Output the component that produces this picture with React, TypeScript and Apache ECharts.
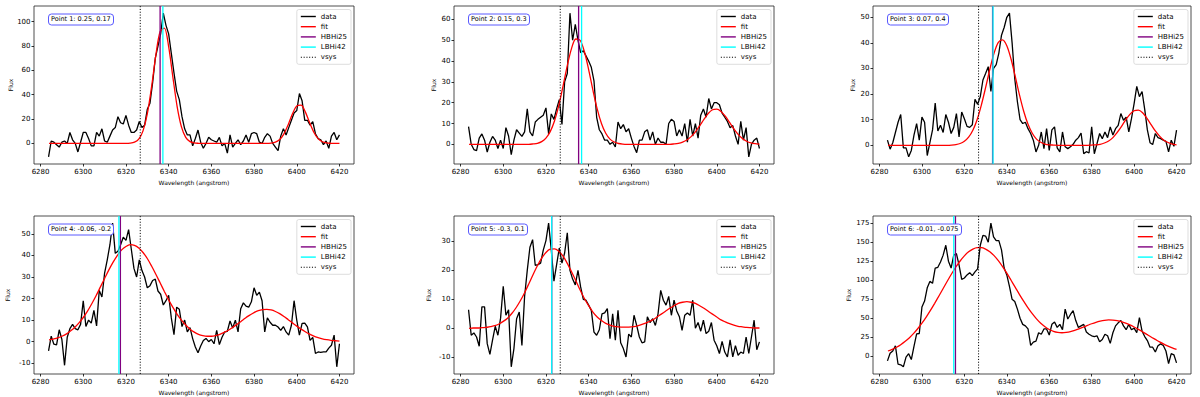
import { useEffect, useRef } from "react";
import * as echarts from "echarts";

const FONT = "DejaVu Sans";

// Wavelength sampling of the spectra (angstrom)
const WAVE_START = 6283.75;
const WAVE_STEP = 1.25;
const WAVE_COUNT = 110;
const FIT_START = 6284;
const FIT_STEP = 2;
const FIT_COUNT = 69;

const X_TICKS = [6280, 6300, 6320, 6340, 6360, 6380, 6400, 6420];

const TITLES = [
  "Point 1: 0.25, 0.17",
  "Point 2: 0.15, 0.3",
  "Point 3: 0.07, 0.4",
  "Point 4: -0.06, -0.2",
  "Point 5: -0.3, 0.1",
  "Point 6: -0.01, -0.075",
];

const LEGEND_NAMES = ["data", "fit", "HBHi25", "LBHi42", "vsys"];

const VSYS = 6326.7;
const HBHI25 = [6336.0, 6335.3, 6333.3, 6317.4, 6322.7, 6315.8];
const LBHI42 = [6337.3, 6336.7, 6333.5, 6316.7, 6322.7, 6315.0];

const Y_TICKS = [
  [0, 20, 40, 60, 80, 100],
  [0, 10, 20, 30, 40, 50, 60],
  [0, 10, 20, 30, 40, 50],
  [-10, 0, 10, 20, 30, 40, 50],
  [-10, 0, 10, 20, 30],
  [0, 25, 50, 75, 100, 125, 150, 175],
];

const P1_DATA = [
  -11, 2, 1, -1, -3, 1, 2, 0, 9, 3,
  0, -7, 1, 9, 9, 4, -2, -2, 9, 6,
  12, 2, 1, 6, 11, 13, 22, 17, 16, 23,
  15, 9, 9, 11, 18, 13, 15, 28, 33, 50,
  70, 80, 90, 107, 97, 90, 74, 58, 43, 36,
  22, 12, 7, 7, -2, 4, 11, 1, -4, 0,
  5, 3, 2, 1, 5, -2, 0, -8, 7, -3,
  0, 3, -1, 2, 7, 1, 8, 9, 8, 1,
  0, 5, 8, 6, 0, -3, -6, 6, 12, 7,
  13, 19, 25, 27, 41, 35, 19, 19, 15, 18,
  8, 4, 3, -1, 2, -4, 6, 9, 3, 7,
];
const P2_DATA = [
  8.5, 0, -2.5, -3, 3, 5, 2, -3.7, 1, 3.8,
  2, -2, 2, -2, 8, 4, -5, 2, 7, 5.4,
  3.8, 6, 17, 6, 4, 10.7, 12, 13, 14, 17.5,
  5, 14.6, 12, 17, 21.5, 9.5, 30, 34, 63, 50,
  57.6, 50, 44, 45, 42.5, 40, 37, 30.5, 13, 7,
  5, 2, 2, 0, 1, -1.3, 10.7, 7.5, 9.5, 6,
  7.5, 3, -1, -4, 2, 2, 6, 7, 2, 6,
  0, 3, 1, 1, 0, 10, 12, 11, 4, 7,
  4, 10, 1, 12, 4, 10, 3, 14, 17, 13,
  22, 17, 20, 20, 19, 15, 13, 11, 8, 9,
  4, 0, 11, 2, 8, -6, 0, 2, 3, -2,
];
const P3_DATA = [
  2, -1.5, 1, 5, 9, 12, -1, -1, -4.5, -2,
  4, 8.5, 2, 11, 9, -4, 1, 6, 16.5, 5.6,
  7.8, 5, 12, 9, 4.6, 7, 12.4, 3.3, 13, 10.4,
  7.4, 7, 8, 18, 16, 19, 25.5, 28, 30.7, 21,
  30, 31.5, 36, 43, 46, 50, 51.6, 40, 26, 17,
  10, 8.5, 9, 6.5, 4.6, 2, -2.6, 0, 5.2, -1.3,
  6.5, -2, 6, 7.2, -1, -2.6, 5.2, -0.6, -1.3, -0.6,
  0.4, 2, 3, 4.8, -3.3, -2.5, -3, 7.2, -3.3, 0.6,
  4.6, 2.6, 5.2, 3, 7.2, 4, 6.5, 7.8, 12.4, 9.8,
  11, 5.2, 10.4, 16.3, 23, 19, 21, 14, 6, 1,
  0.3, 4.6, 3, 2.6, 2, 1.5, -2.6, 2, -0.4, 5.9,
];
const P4_DATA = [
  -4.3, 2.5, -1.2, -1.5, 5.5, 1, -11, 2, 6, 8,
  6, 5.5, 8, 19, 7, 10, 8.6, 14.5, 7.3, 23.8,
  20.7, 31.8, 38, 45, 55, 41, 42, 45, 48.5, 47,
  52, 43, 34, 30, 38, 33, 30, 25, 26, 28.4,
  29, 23.5, 22, 17, 19, 21.5, 11, 3.2, 16, 15,
  7, 10, 4.5, 6.5, 1.4, -2.5, -5.2, -2, 0.5, 1.5,
  0, 1, -1, 5.2, -1.4, 2, 4.5, 4.8, 9.6, 6.3,
  10, 4.5, 15.3, 18, 16.5, 16, 18.5, 25, 21.5, 23,
  19, 4.5, 11, 9, 7.6, 7.6, 6.8, 5.2, 7, 4.5,
  3, 7.6, 19, 10, 3, 8.5, 8.6, 6.8, 0.6, 2,
  -5.5, -4.8, -5, -4.8, -4.8, -3, -1.7, 3, -11.7, -1,
];
const P5_DATA = [
  6.4, -2.4, -1.6, -3, -6.2, 7.4, 7.4, -5.3, -9, -4,
  0.7, -2.4, 3.5, 14.5, 4.5, 6.4, -13.3, -7, 3.3, 5.6,
  -5.9, 11, 20, 28, 30.6, 21.7, 22, 22.5, 27, 30.3,
  36.3, 27, 16.3, 22, 27.7, 22.5, 26, 33, 20, 17,
  15, 20, 14.3, 10, 9.7, 8, 6.2, -1.3, -2.4, -0.5,
  5, 5.3, 6.8, -3.6, 5, -4.1, 6.2, -5, -7, -9.9,
  -2, -3, 4.5, 1, -3, -5, -4.7, 4, 2, 3.3,
  1, 5, 13.1, 9.7, 8, 11, 4.5, 9.7, 6, 4,
  -0.7, 4.5, 5.3, 4.5, 9.7, 0, 2, -1, 2.8, -1.8,
  -1, 2, -4.1, -6, -8.7, -4.5, -8.2, -9.9, -4, -9.9,
  -6, -9.3, -8.2, -8.7, -3, -8.7, -3, 2.8, -7.4, -4.7,
];
const P6_DATA = [
  -6, 4, 7, 13.8, -10.4, -11.2, -13.8, -1, 3.5, -4.3,
  13, 29.4, 30, 64.8, 72.6, 90, 98.5, 96, 116, 117,
  124, 133, 146, 125, 116, 133, 135, 120, 101, 103,
  107, 110, 106, 111, 115, 146, 159, 158, 150, 175,
  157, 152, 152, 140, 116, 107, 92, 75, 72, 62,
  50, 42, 40, 36, 14.3, 18.6, 20, 31, 29, 36,
  36, 28, 42, 45, 38, 42, 35, 62, 49, 55,
  60, 47, 38, 40, 42, 32, 29, 27, 26, 27,
  19, 22, 29, 27, 17, 31, 40, 44, 47, 40,
  35, 42, 35, 37, 31, 51, 33, 26, 20.7, 12,
  12, 5.6, 14, 16.4, 14.3, 7, -9.5, 3.5, 2, -8.6,
];

const P1_FIT = [
  0, 0, 0, 0, 0, 0, 0, 0, 0, 0,
  0, 0, 0, 0, 0, 0, 0, 0, 0,
  0.2, 1.0, 3.5, 10.3, 24.2, 46.4, 72.5, 91.9, 94.8, 79.5, 54.3, 30.1, 13.6, 5.0, 1.5, 0.4, 0.1,
  0, 0, 0, 0, 0, 0, 0, 0, 0, 0, 0, 0, 0, 0, 0, 0,
  0.3, 1.1, 3.2, 7.9, 15.4, 24.3, 30.8, 31.4, 25.9, 17.2, 9.2, 3.9, 1.4, 0.4, 0.1, 0, 0,
];
const P2_FIT = [
  0, 0, 0, 0, 0, 0, 0, 0, 0, 0, 0, 0, 0, 0, 0,
  0.2, 0.5, 1.3, 3.0, 6.1, 11.2, 18.6, 28.0, 37.8, 46.1, 50.6, 50.0, 44.6, 35.9, 26.0, 17.0, 10.0, 5.3, 2.5, 1.1, 0.4, 0.1,
  0, 0, 0, 0, 0, 0, 0, 0, 0, 0, 0,
  0.2, 0.5, 1.1, 2.1, 3.7, 6.0, 8.9, 12.0, 14.8, 16.6, 16.9, 15.8, 13.5, 10.5, 7.4, 4.8, 2.8, 1.5, 0.7, 0.3, 0.1,
];
const P3_FIT = [
  0, 0, 0, 0, 0, 0, 0, 0, 0, 0, 0, 0, 0, 0, 0,
  0.1, 0.3, 0.7, 1.6, 3.2, 5.9, 10.0, 15.7, 22.5, 29.7, 36.0, 40.2, 41.2, 38.9, 33.7, 26.8, 19.6, 13.2, 8.2, 4.7, 2.4, 1.2, 0.5, 0.2, 0.1,
  0, 0, 0, 0, 0, 0, 0, 0,
  0.1, 0.2, 0.4, 0.9, 1.7, 3.0, 5.0, 7.3, 9.9, 12.1, 13.5, 13.7, 12.7, 10.6, 8.1, 5.6, 3.6, 2.0, 1.1, 0.5, 0.2,
];
const P4_FIT = [
  0.8, 1.2, 1.7, 2.5, 3.5, 4.9, 6.6, 8.7, 11.2, 14.2,
  17.6, 21.3, 25.3, 29.3, 33.3, 36.9, 40.1, 42.6, 44.2, 45.0,
  44.7, 43.5, 41.4, 38.6, 35.1, 31.3, 27.3, 23.3, 19.4, 15.9,
  12.7, 10.0, 7.7, 5.8, 4.4, 3.4, 2.8, 2.5, 2.5, 2.8,
  3.4, 4.3, 5.3, 6.6, 8.0, 9.5, 11.0, 12.3, 13.5, 14.4,
  14.9, 15.0, 14.7, 14.0, 13.0, 11.7, 10.2, 8.7, 7.2, 5.8,
  4.6, 3.5, 2.6, 1.9, 1.3, 0.9, 0.6, 0.4, 0.2,
];
const P5_FIT = [
  0.0, 0.1, 0.1, 0.2, 0.3, 0.6, 0.9, 1.5, 2.4, 3.5,
  5.1, 7.1, 9.5, 12.3, 15.4, 18.6, 21.6, 24.2, 26.2, 27.3,
  27.4, 26.6, 24.9, 22.4, 19.5, 16.4, 13.2, 10.3, 7.8, 5.6,
  3.9, 2.7, 1.7, 1.1, 0.7, 0.5, 0.4, 0.4, 0.5, 0.7,
  1.1, 1.6, 2.2, 2.9, 3.9, 4.9, 5.9, 6.9, 7.8, 8.6,
  9.0, 9.2, 9.0, 8.6, 7.8, 6.9, 5.9, 4.9, 3.9, 2.9,
  2.2, 1.6, 1.1, 0.7, 0.5, 0.3, 0.2, 0.1, 0.1,
];
const P6_FIT = [
  7.0, 9.2, 11.9, 15.3, 19.4, 24.2, 29.8, 36.2, 43.5, 51.5,
  60.3, 69.6, 79.3, 89.2, 99.0, 108.5, 117.4, 125.3, 132.0, 137.3,
  140.9, 142.8, 142.8, 141.0, 137.5, 132.3, 125.7, 117.9, 109.3, 100.0,
  90.6, 81.2, 72.2, 63.7, 56.0, 49.2, 43.4, 38.8, 35.3, 32.8,
  31.4, 31.0, 31.4, 32.4, 34.1, 36.1, 38.3, 40.6, 42.8, 44.7,
  46.2, 47.3, 47.8, 47.6, 46.9, 45.6, 43.7, 41.3, 38.5, 35.5,
  32.2, 28.8, 25.4, 22.2, 19.0, 16.1, 13.5, 11.1, 9.0,
];

const DATA = [P1_DATA, P2_DATA, P3_DATA, P4_DATA, P5_DATA, P6_DATA];
const FITS = [P1_FIT, P2_FIT, P3_FIT, P4_FIT, P5_FIT, P6_FIT];

// Layout (pixels)
const PANEL_LEFT = [34, 454, 873, 34, 454, 873];
const PANEL_TOP = [6, 6, 6, 216, 216, 216];
const PANEL_WIDTH = [320, 320, 318, 320, 320, 318];
const PANEL_HEIGHT = 158;
const FLUX_NAME_GAP = [21, 18, 18, 24, 23, 21.5];

const COLORS = {
  data: "#000000",
  fit: "#ff0000",
  HBHi25: "#800080",
  LBHi42: "#00ffff",
  vsys: "#000000",
};

const SOLID_ICON = "path://M0,0H15V1.4H0Z";
const DOTTED_ICON =
  "path://M0,0H1.1V1H0ZM2.8,0H3.9V1H2.8ZM5.6,0H6.7V1H5.6ZM8.3,0H9.4V1H8.3ZM11.1,0H12.2V1H11.1ZM13.9,0H15V1H13.9Z";

function buildOption() {
  const waves = Array.from({ length: WAVE_COUNT }, (_, i) => WAVE_START + WAVE_STEP * i);
  const fitWaves = Array.from({ length: FIT_COUNT }, (_, i) => FIT_START + FIT_STEP * i);
  const xLo = waves[0];
  const xHi = waves[waves.length - 1];
  const xPad = (xHi - xLo) * 0.05;

  const grid: any[] = [];
  const xAxis: any[] = [];
  const yAxis: any[] = [];
  const series: any[] = [];
  const title: any[] = [];
  const legend: any[] = [];

  const tickLine = { color: "#000", width: 0.8 };
  const labelStyle = { fontSize: 7, fontFamily: FONT, color: "#000" };
  const nameStyle = { fontSize: 6, fontFamily: FONT, color: "#000" };
  const plain = (v: number) => String(v);

  DATA.forEach((data, k) => {
    const fit = FITS[k];
    const all = data.concat(fit);
    const lo = Math.min(...all);
    const hi = Math.max(...all);
    const pad = (hi - lo) * 0.05;
    const yMin = lo - pad;
    const yMax = hi + pad;
    const left = PANEL_LEFT[k];
    const top = PANEL_TOP[k];
    const width = PANEL_WIDTH[k];

    grid.push({
      left,
      top,
      width,
      height: PANEL_HEIGHT,
      show: true,
      borderColor: "#222",
      borderWidth: 0.8,
      backgroundColor: "transparent",
      containLabel: false,
    });

    xAxis.push({
      type: "value",
      gridIndex: k,
      min: xLo - xPad,
      max: xHi + xPad,
      name: "Wavelength (angstrom)",
      nameLocation: "middle",
      nameGap: 15.5,
      nameTextStyle: nameStyle,
      axisLine: { show: false, onZero: false },
      axisTick: { show: true, length: 2.5, customValues: X_TICKS, lineStyle: tickLine },
      axisLabel: { show: true, customValues: X_TICKS, margin: 4.5, formatter: plain, ...labelStyle },
      splitLine: { show: false },
    });

    yAxis.push({
      type: "value",
      gridIndex: k,
      min: yMin,
      max: yMax,
      name: "Flux",
      nameLocation: "middle",
      nameGap: FLUX_NAME_GAP[k],
      nameTextStyle: nameStyle,
      axisLine: { show: false, onZero: false },
      axisTick: { show: true, length: 2.5, customValues: Y_TICKS[k], lineStyle: tickLine },
      axisLabel: { show: true, customValues: Y_TICKS[k], margin: 3.5, formatter: plain, ...labelStyle },
      splitLine: { show: false },
    });

    const base = {
      type: "line",
      xAxisIndex: k,
      yAxisIndex: k,
      symbol: "none",
      showSymbol: false,
      silent: true,
      animation: false,
      emphasis: { disabled: true },
    };

    series.push({
      ...base,
      name: "data",
      color: COLORS.data,
      lineStyle: { color: COLORS.data, width: 1.3 },
      data: waves.map((w, i) => [w, data[i]]),
    });
    series.push({
      ...base,
      name: "fit",
      color: COLORS.fit,
      smooth: 0.3,
      lineStyle: { color: COLORS.fit, width: 1.3 },
      data: fitWaves.map((w, i) => [w, fit[i]]),
    });
    series.push({
      ...base,
      name: "HBHi25",
      color: COLORS.HBHi25,
      lineStyle: { color: COLORS.HBHi25, width: 1.3 },
      data: [
        [HBHI25[k], yMin],
        [HBHI25[k], yMax],
      ],
    });
    series.push({
      ...base,
      name: "LBHi42",
      color: COLORS.LBHi42,
      lineStyle: { color: COLORS.LBHi42, width: 1.3 },
      data: [
        [LBHI42[k], yMin],
        [LBHI42[k], yMax],
      ],
    });
    series.push({
      ...base,
      name: "vsys",
      color: COLORS.vsys,
      lineStyle: { color: COLORS.vsys, width: 1, type: [1.1, 1.7] },
      data: [
        [VSYS, yMin],
        [VSYS, yMax],
      ],
    });

    title.push({
      text: TITLES[k],
      left: left + 14,
      top: top + 7.5,
      padding: [2, 3, 2, 3],
      backgroundColor: "#ffffff",
      borderColor: "#5a5aff",
      borderWidth: 1,
      borderRadius: 3,
      textStyle: {
        fontSize: 6.5,
        fontWeight: "normal",
        fontFamily: FONT,
        color: "#000",
        lineHeight: 7.8,
      },
    });

    legend.push({
      orient: "vertical",
      right: 1200 - (left + width) + 3,
      top: top + 3.5,
      itemWidth: 15,
      itemHeight: 7,
      itemGap: 3.2,
      padding: [3.5, 4, 3.5, 4],
      backgroundColor: "rgba(255,255,255,0.85)",
      borderColor: "#d4d4d4",
      borderWidth: 0.8,
      borderRadius: 2,
      selectedMode: false,
      textStyle: { fontSize: 7, fontFamily: FONT, color: "#000", lineHeight: 7 },
      data: LEGEND_NAMES.map((n) => ({
        name: n,
        icon: n === "vsys" ? DOTTED_ICON : SOLID_ICON,
        itemStyle: { color: (COLORS as any)[n], borderWidth: 0 },
      })),
    });
  });

  return {
    animation: false,
    backgroundColor: "#ffffff",
    textStyle: { fontFamily: FONT },
    title,
    legend,
    grid,
    xAxis,
    yAxis,
    series,
  };
}

export default function App() {
  const ref = useRef<HTMLDivElement>(null);
  useEffect(() => {
    document.body.style.margin = "0";
    const chart = echarts.init(ref.current as HTMLDivElement, null, { renderer: "svg" });
    chart.setOption(buildOption() as any);
    return () => chart.dispose();
  }, []);
  return (
    <div
      ref={ref}
      style={{ position: "absolute", left: 0, top: 0, width: 1200, height: 397, background: "#fff" }}
    />
  );
}
